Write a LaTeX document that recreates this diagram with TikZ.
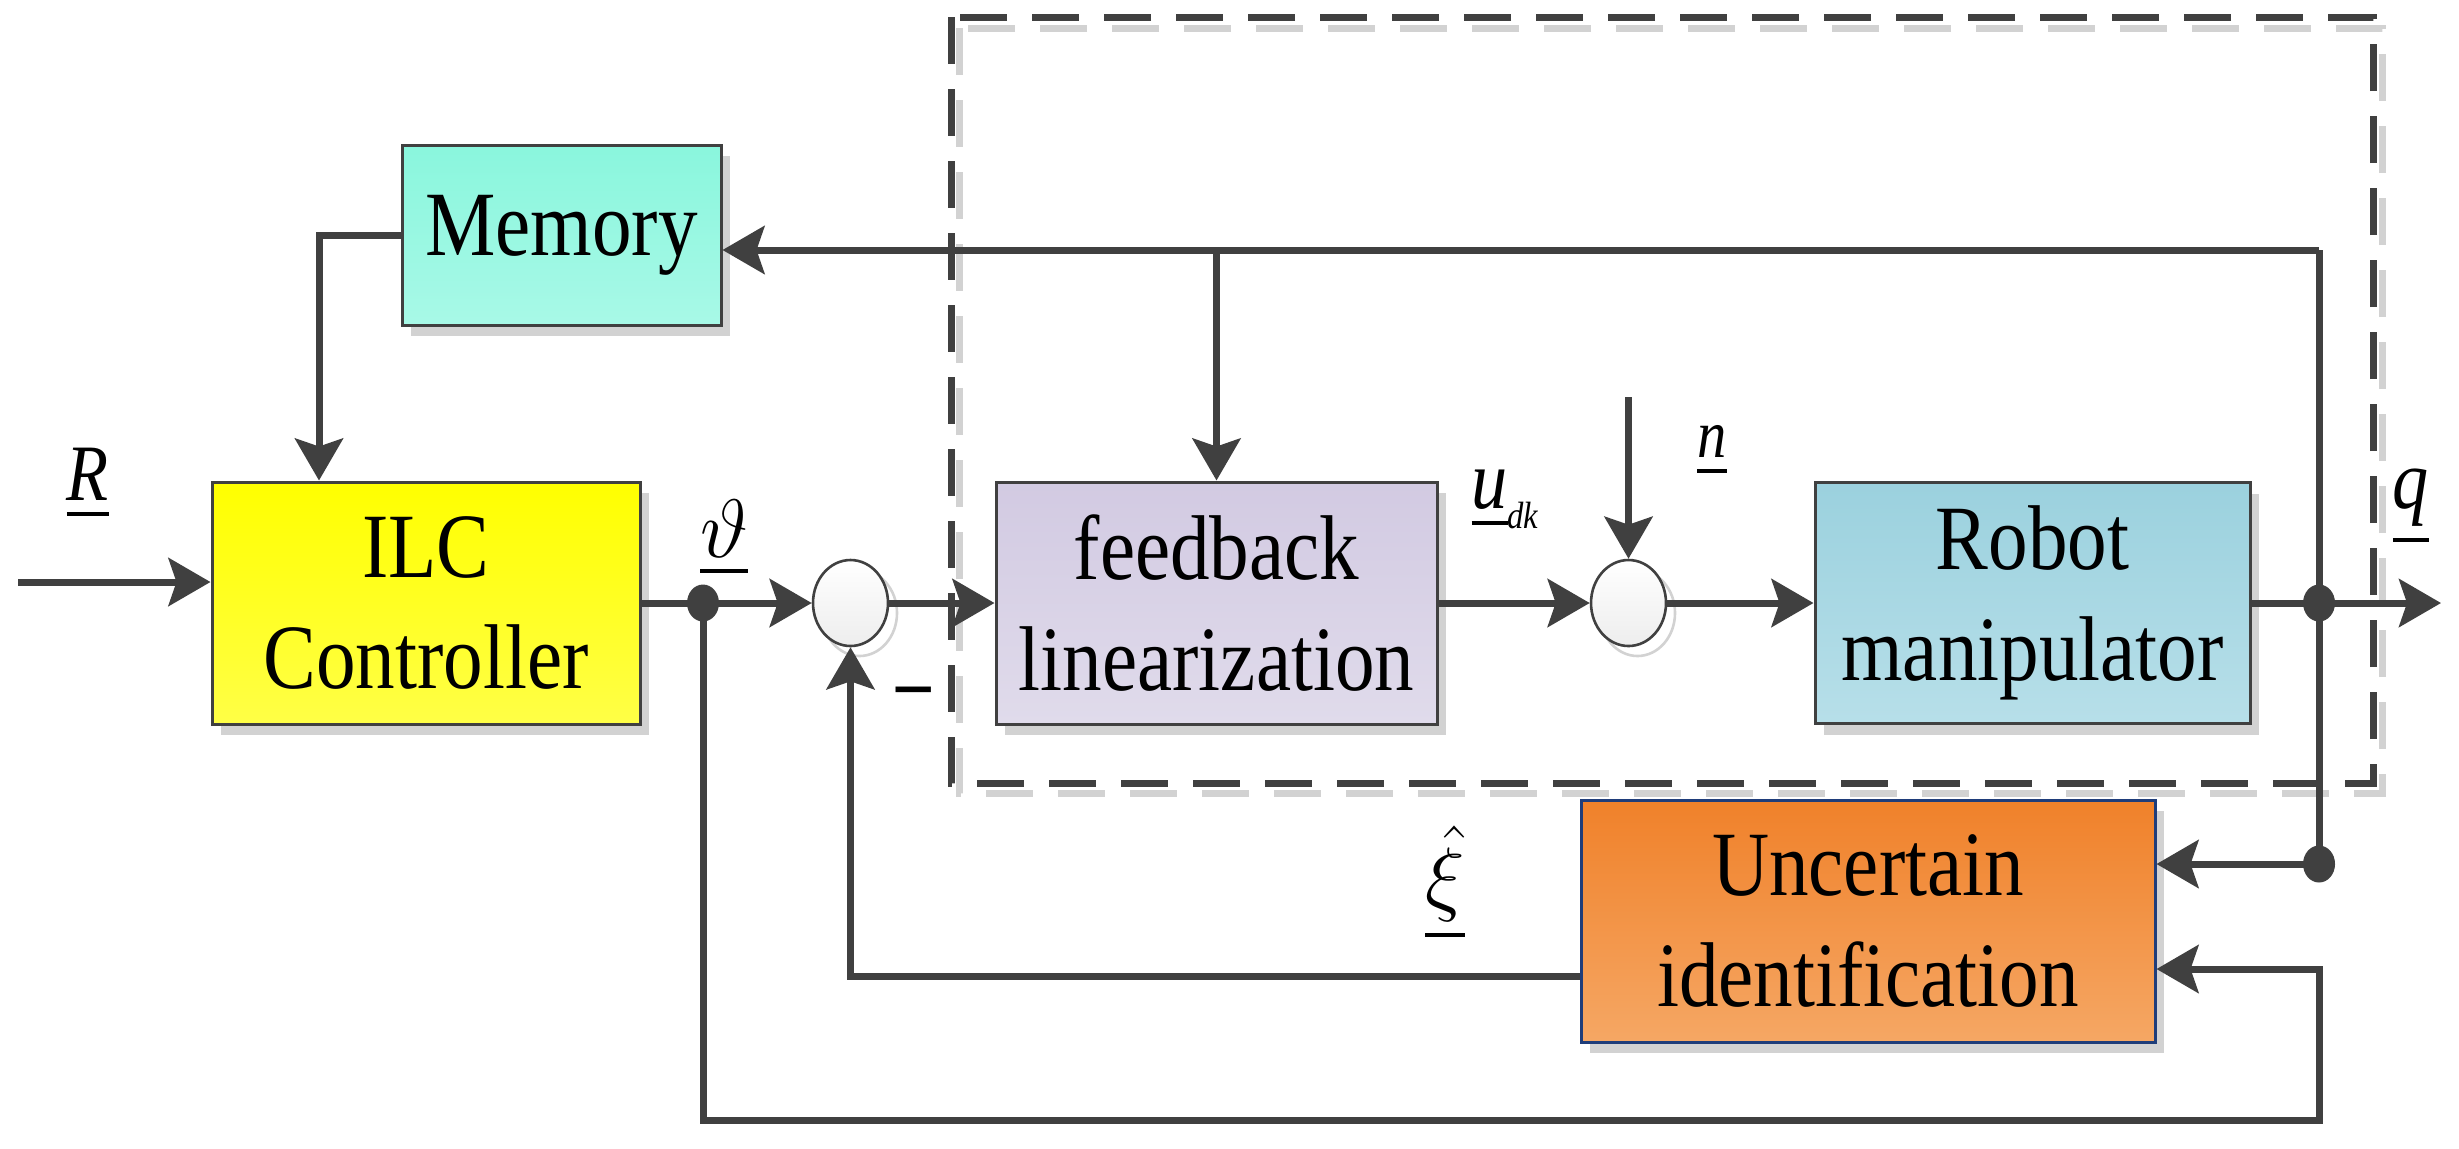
\documentclass[tikz,border=0pt]{standalone}
\usepackage{fontspec}
\setmainfont{Liberation Serif}[FakeStretch=0.86]
\usetikzlibrary{arrows.meta,shapes.geometric,shadows}

\definecolor{linec}{RGB}{64,64,64}
\definecolor{memtop}{RGB}{138,246,221}
\definecolor{membot}{RGB}{168,249,231}
\definecolor{ilctop}{RGB}{255,255,0}
\definecolor{ilcbot}{RGB}{255,255,70}
\definecolor{fbltop}{RGB}{210,202,226}
\definecolor{fblbot}{RGB}{224,219,235}
\definecolor{robtop}{RGB}{155,209,222}
\definecolor{robbot}{RGB}{183,223,233}
\definecolor{unctop}{RGB}{240,129,42}
\definecolor{uncbot}{RGB}{245,167,100}
\definecolor{uncedge}{RGB}{31,61,122}

\newcommand\ubar[1]{\vtop{\hbox{#1}\kern3pt\hrule height1pt}}

\tikzset{every picture/.style={line width=0.75pt}}
\tikzset{
  blk/.style={draw=linec, line width=0.75pt, align=center, inner sep=0pt,
    font=\fontsize{23}{27.75}\selectfont,
    general shadow={fill=gray!35, shadow xshift=2.25pt, shadow yshift=-2.75pt}},
  sumc/.style={ellipse, draw=linec, line width=0.65pt, minimum width=18.75pt,
    minimum height=21.5pt, inner sep=0pt, top color=white, bottom color=gray!14,
    general shadow={draw=gray!35, fill=white, shadow xshift=2.25pt, shadow yshift=-2.5pt}},
  dotc/.style={ellipse, fill=linec, minimum width=8pt, minimum height=9.25pt, inner sep=0pt},
  conn/.style={draw=linec, line width=1.75pt},
  arr/.style={conn, -{Stealth[length=10.5pt,width=12pt,inset=2pt]}},
  lbl/.style={inner sep=0pt, font=\fontsize{20}{24}\selectfont},
}

\begin{document}
\begin{tikzpicture}[x=0.25pt,y=0.25pt,yscale=-1,xscale=1]
\useasboundingbox (0,0) rectangle (2459,1148);

%Dashed frame (shadow, then frame)
\draw [gray!35, line width=1.75pt, dash pattern=on 11.75pt off 6.25pt] (959,28) rectangle (2382,793);
\draw [linec, line width=1.75pt, dash pattern=on 11.75pt off 6.25pt] (951,17) rectangle (2373,783);

%Blocks
\node [blk, top color=memtop, bottom color=membot, minimum width=79.75pt, minimum height=45pt] (memory) at (561.5,235) {Memory};
\node [blk, top color=ilctop, bottom color=ilcbot, minimum width=107pt, minimum height=60.5pt] (ilc) at (426,603) {ILC\\Controller};
\node [blk, top color=fbltop, bottom color=fblbot, minimum width=110.25pt, minimum height=60.5pt] (fbl) at (1216.5,603) {feedback\\linearization};
\node [blk, top color=robtop, bottom color=robbot, minimum width=108.75pt, minimum height=60.25pt] (robot) at (2032.5,603) {Robot\\manipulator};
\node [blk, draw=uncedge, top color=unctop, bottom color=uncbot, minimum width=143.5pt, minimum height=60.5pt] (unc) at (1868,921) {Uncertain\\identification};

%Summing points and branch dots
\node [sumc] (sum1) at (850.5,603) {};
\node [sumc] (sum2) at (1628.5,603) {};
\node [dotc] (dot1) at (703,603) {};
\node [dotc] (dot2) at (2319,603) {};
\node [dotc] (dot3) at (2319,864) {};

%Free ends and corners
\coordinate (rin) at (18,582);
\coordinate (qout) at (2441,603);
\coordinate (top) at (2319,250);
\coordinate (mc) at (319,235);
\coordinate (nin) at (1628.5,397);
\coordinate (bot) at (2319,1120);
\coordinate (uin) at (2319,969);
\coordinate (xiy) at (850.5,976);

%Forward path
\draw [arr] (rin) -- (rin -| ilc.west);
\draw [conn] (ilc.east) -- (dot1.center);
\draw [arr] (dot1.center) -- (sum1.west);
\draw [arr] (sum1.east) -- (fbl.west);
\draw [arr] (fbl.east) -- (sum2.west);
\draw [arr] (nin) -- (sum2.north);
\draw [arr] (sum2.east) -- (robot.west);
\draw [arr] (robot.east) -- (qout);

%Memory loop
\draw [conn] (dot2.center) -- (top);
\draw [arr] (top) -- (memory.east |- top);
\draw [arr] (fbl.north |- top) -- (fbl.north);
\draw [arr] (memory.west) -- (mc) -- (mc |- ilc.north);

%Identification loop
\draw [conn] (dot2.center) -- (dot3.center);
\draw [arr] (dot3.center) -- (dot3 -| unc.east);
\draw [arr] (dot1.center) -- (dot1 |- bot) -- (bot) -- (uin) -- (uin -| unc.east);
\draw [arr] (xiy -| unc.west) -- (xiy) -- (sum1.south);

% Text Node
\node [lbl, anchor=base] (lR) at (88,500) {\ubar{\itshape R}};
% Text Node
\node [lbl, anchor=base] (lth) at (724,557) {\ubar{$\vartheta$}};
% Text Node
\node [lbl] (lmin) at (914,698) {\textbf{–}};
% Text Node
\node [lbl, anchor=base west, font=\fontsize{21}{24}\selectfont] (lu) at (1470,508) {\ubar{\itshape u}\raisebox{-5pt}{\fontsize{9.5}{10}\selectfont\itshape dk}};
% Text Node
\node [lbl, anchor=base, font=\fontsize{17}{20}\selectfont] (ln) at (1712,457) {\ubar{\itshape n}};
% Text Node
\node [lbl, anchor=base, font=\fontsize{21}{24}\selectfont] (lq) at (2411,508) {\ubar{\itshape q}};
% Text Node
\node [lbl, anchor=base, font=\fontsize{22}{24}\selectfont] (lxi) at (1445,905) {\ubar{$\hat{\xi}$}};

\end{tikzpicture}
\end{document}
